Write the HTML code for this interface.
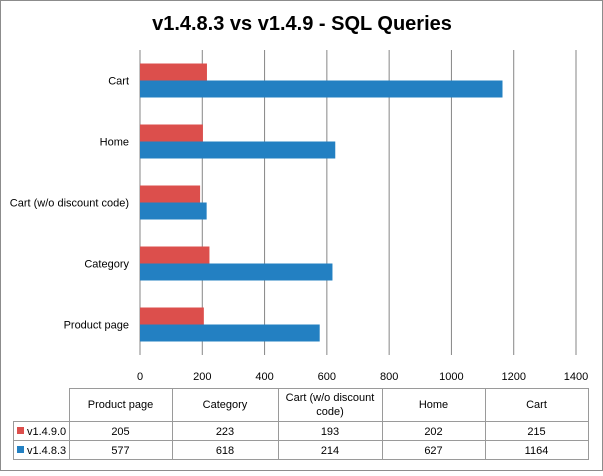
<!DOCTYPE html>
<html><head><meta charset="utf-8"><style>
body{margin:0;background:#fff;font-family:"Liberation Sans",sans-serif}
svg text{font-family:"Liberation Sans",sans-serif}
</style></head><body>
<svg width="603" height="471" viewBox="0 0 603 471">
<rect x="0.5" y="0.5" width="602" height="470" fill="#fff" stroke="#8c8c8c"/>
<text x="302" y="30" text-anchor="middle" font-size="20" font-weight="bold" fill="#000">v1.4.8.3  vs v1.4.9 - SQL Queries</text>
<g id="grid"></g><g id="bars"></g><g id="cats"></g><g id="ticks"></g><g id="table"></g>
</svg>
<script>
const categories=["Cart","Home","Cart (w/o discount code)","Category","Product page"];
const v1490=[215,202,193,223,205];
const v1483=[1164,627,214,618,577];
const tickLabels=[0,200,400,600,800,1000,1200,1400];
const tableCats=["Product page","Category","Cart (w/o discount\ncode)","Home","Cart"];
const tableV1490=[205,223,193,202,215];
const tableV1483=[577,618,214,627,1164];
const NS="http://www.w3.org/2000/svg";
const X0=140,X1=576,XMAX=1400,Y0=50,Y1=355;
const x=v=>X0+(X1-X0)*v/XMAX;
const band=(Y1-Y0)/categories.length;
function mk(t,a,p,txt){const e=document.createElementNS(NS,t);for(const k in a)e.setAttribute(k,a[k]);if(txt!==undefined)e.textContent=txt;p.appendChild(e);return e;}
const grid=document.getElementById('grid'),bars=document.getElementById('bars'),cats=document.getElementById('cats'),ticks=document.getElementById('ticks'),tbl=document.getElementById('table');
tickLabels.forEach(t=>{
 const l=mk('line',{x1:x(t),x2:x(t),y1:Y0,y2:Y1,stroke:'#868686','stroke-width':1},grid);
 
 
 const tx=mk('text',{x:x(t),y:380,'text-anchor':'middle','font-size':11,fill:'#000'},ticks,String(t));
 
 
});
categories.forEach((c,i)=>{
 const cy=Y0+band*i+band/2;
 const r=mk('rect',{x:X0,y:cy-17,width:x(v1490[i])-X0,height:17,fill:'#dc4f4c'},bars);
 
 
 const b=mk('rect',{x:X0,y:cy,width:x(v1483[i])-X0,height:17,fill:'#2380c2'},bars);
 
 
 const t=mk('text',{x:129,y:cy+4,'text-anchor':'end','font-size':11,fill:'#000'},cats,c);
 
 
});
// table
const cols=[69,172,278,382,485,588];
const TL=13,R0=388,R1=421,R2=440,R3=459;
const st={stroke:'#9a9a9a','stroke-width':1,fill:'none'};
mk('rect',Object.assign({x:cols[0]+.5,y:R0+.5,width:cols[5]-cols[0],height:R3-R0},st),tbl);
mk('rect',Object.assign({x:TL+.5,y:R1+.5,width:cols[0]-TL,height:R3-R1},st),tbl);
[R1,R2].forEach(y=>mk('line',Object.assign({x1:TL,x2:cols[5],y1:y+.5,y2:y+.5},st),tbl));
cols.slice(1,5).forEach(c=>mk('line',Object.assign({x1:c+.5,x2:c+.5,y1:R0,y2:R3},st),tbl));
tableCats.forEach((c,i)=>{
 const cx=(cols[i]+cols[i+1])/2;const parts=c.split("\n");
 parts.forEach((p,j)=>{const t=mk('text',{x:cx,y:(parts.length>1?401+j*14:408),'text-anchor':'middle','font-size':11},tbl,p);
 
 });
 const a=mk('text',{x:cx,y:435,'text-anchor':'middle','font-size':11},tbl,String(tableV1490[i]));
 
 
 const b=mk('text',{x:cx,y:454,'text-anchor':'middle','font-size':11},tbl,String(tableV1483[i]));
 
 
});
[["v1.4.9.0","#dc4f4c",R1],["v1.4.8.3","#2380c2",R2]].forEach(([n,c,y])=>{
 const k=mk('rect',{x:17,y:y+6,width:7,height:7,fill:c},tbl);
 
 
 const t=mk('text',{x:27,y:y+14,'font-size':11},tbl,n);
 
 
});
</script>
</body></html>
